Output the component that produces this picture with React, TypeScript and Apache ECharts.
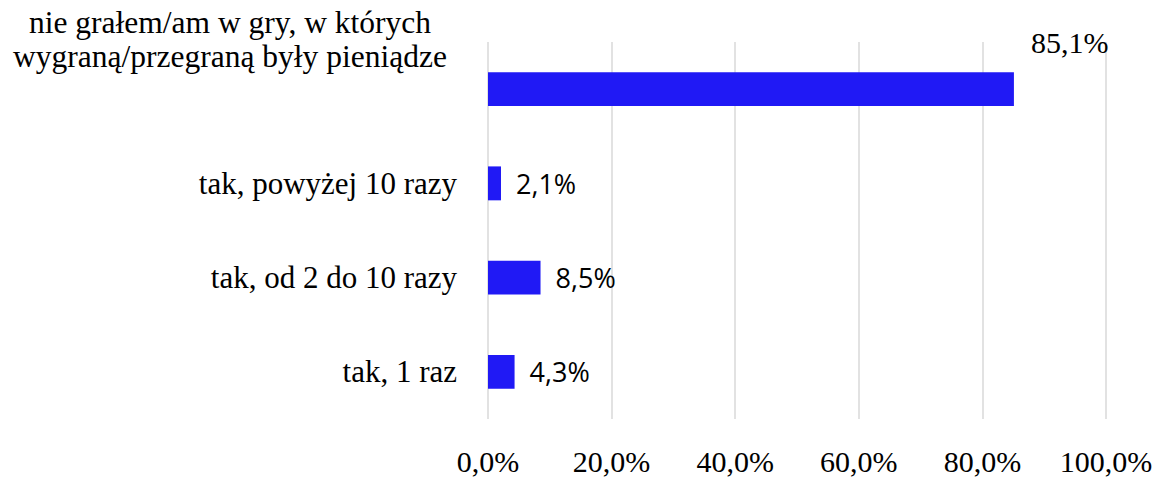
import React, { useEffect, useRef } from "react";
import * as echarts from "echarts";

const categories = [
  "nie grałem/am w gry, w których\nwygraną/przegraną były pieniądze",
  "tak, powyżej 10 razy",
  "tak, od 2 do 10 razy",
  "tak, 1 raz",
];
const values = [85.1, 2.1, 8.5, 4.3];
const xTicks = [0, 20, 40, 60, 80, 100];

const fmt = (v: number) => v.toFixed(1).replace(".", ",") + "%";

export default function App() {
  const ref = useRef<HTMLDivElement>(null);
  useEffect(() => {
    if (!ref.current) return;
    const chart = echarts.init(ref.current, undefined, { renderer: "svg" });
    const serif = "'Liberation Serif', 'Times New Roman', serif";
    const sans = "'Open Sans', 'Noto Sans', sans-serif";
    chart.setOption({
      animation: false,
      backgroundColor: "#ffffff",
      grid: { left: 487, right: 57, top: 42, bottom: 58, containLabel: false },
      xAxis: {
        type: "value",
        min: xTicks[0],
        max: xTicks[xTicks.length - 1],
        interval: 20,
        axisLine: { show: false },
        axisTick: { show: false },
        splitLine: { show: true, lineStyle: { color: "#d9d9d9", width: 1.5 } },
        axisLabel: {
          formatter: (v: number) => fmt(v),
          fontFamily: serif,
          fontSize: 30,
          color: "#000",
          margin: 27,
        },
      },
      yAxis: {
        type: "category",
        inverse: true,
        data: categories,
        axisLine: { show: false },
        axisTick: { show: false },
        axisLabel: {
          interval: 0,
          hideOverlap: false,
          fontFamily: serif,
          fontSize: 31,
          color: "#000",
          margin: 31,
          formatter: (v: string) => {
            if (v.indexOf("\n") >= 0) {
              const lines = v.split("\n");
              return lines.map((l) => "{c|" + l + "}").join("\n") + "\n{s| }";
            }
            return v;
          },
          rich: {
            c: {
              width: 454,
              align: "center",
              fontFamily: serif,
              fontSize: 31.5,
              lineHeight: 34,
              color: "#000",
            },
            s: { height: 100, lineHeight: 100, fontSize: 10 },
          },
        },
      },
      series: [
        {
          type: "bar",
          data: values.map((v, i) =>
            i === 0
              ? {
                  value: v,
                  label: {
                    show: true,
                    position: "right",
                    distance: 15,
                    offset: [2, -47],
                    fontFamily: serif,
                    fontSize: 30,
                    color: "#000",
                    formatter: (p: any) => fmt(p.value),
                  },
                }
              : v
          ),
          barCategoryGap: "64%",
          itemStyle: { color: "#2019F5" },
          label: {
            show: true,
            position: "right",
            distance: 15,
            fontFamily: sans,
            fontSize: 27,
            color: "#000",
            formatter: (p: any) => fmt(p.value),
          },
        },
      ],
    });
    return () => chart.dispose();
  }, []);
  return (
    <div
      ref={ref}
      style={{ position: "fixed", left: 0, top: 0, width: 1163, height: 477, background: "#fff" }}
    />
  );
}
